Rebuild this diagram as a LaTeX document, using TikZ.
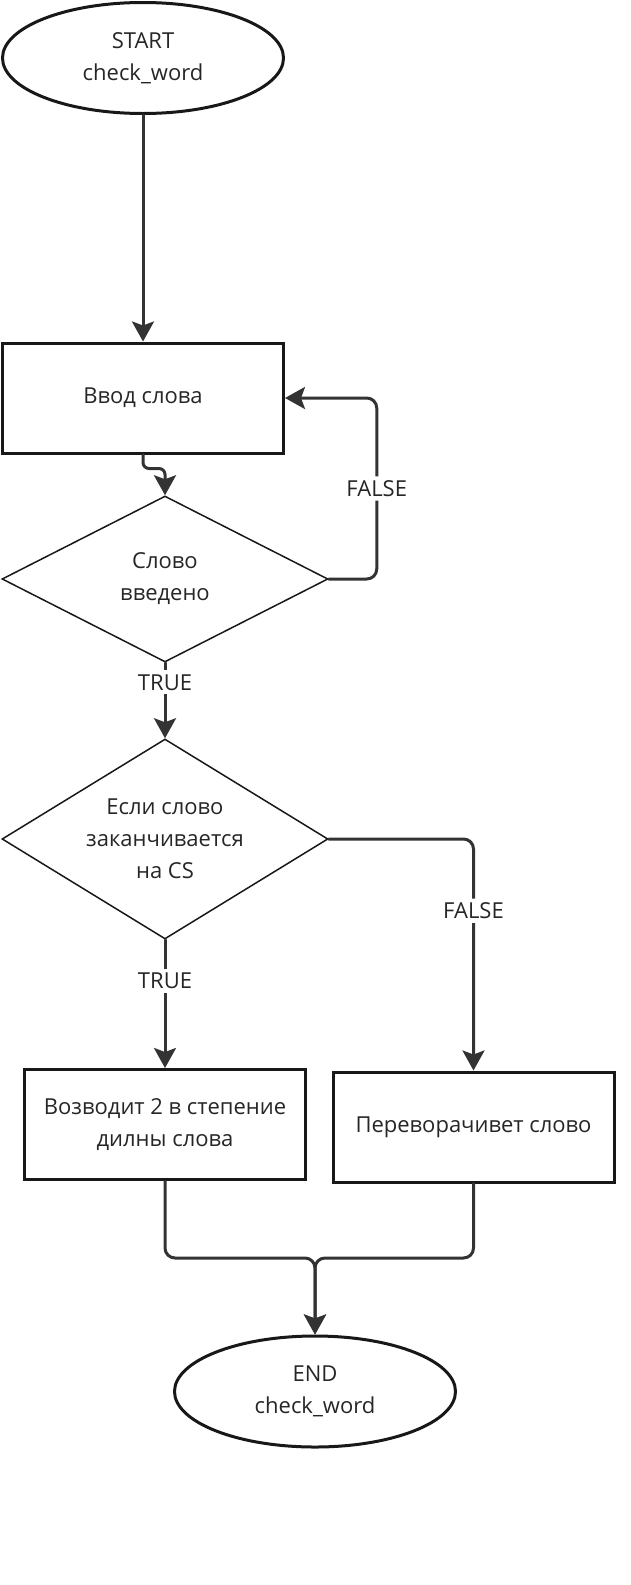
\documentclass[tikz,border=0pt]{standalone}
\usepackage{fontspec}
\setmainfont{Open Sans}
\usetikzlibrary{arrows.meta,positioning,shapes.geometric,calc}
\definecolor{flowline}{RGB}{51,51,51}
\definecolor{flowedge}{RGB}{24,24,24}
\definecolor{flowtext}{RGB}{38,38,38}
\begin{document}
\begin{tikzpicture}[x=1pt,y=-1pt,line cap=round,
 every node/.style={font=\fontsize{22}{32}\selectfont,text=flowtext},
 term/.style={ellipse,draw=flowedge,line width=3pt,minimum width=281,minimum height=111,inner sep=0pt,align=center},
 proc/.style={rectangle,draw=flowedge,line width=3pt,minimum width=281,minimum height=110,inner sep=0pt,align=center},
 cond/.style={diamond,draw=flowedge,line width=1.5pt,inner sep=0pt,align=center},
 conn/.style={draw=flowline,line width=3pt,-{Stealth[length=20pt,width=22pt,inset=4pt]}},
 lbl/.style={fill=white,inner sep=4pt}]
\useasboundingbox (0,0) rectangle (630,1585);
\node[term] (start) at (143,58) {START\\check\_word};
\node[proc] (in) at (143,398) {Ввод слова};
\node[cond,aspect=1.96,minimum width=326,minimum height=166] (c1) at (165,579) {Слово\\введено};
\node[cond,aspect=1.63,minimum width=326,minimum height=200] (c2) at (165,839) {Если слово\\заканчивается\\на CS};
\node[proc] (pow) at (165,1124.5) {Возводит 2 в степение\\дилны слова};
\node[proc] (rev) at (473.5,1127) {Переворачивет слово};
\node[term] (end) at (315,1391.5) {END\\check\_word};
\coordinate (mrg) at (315,1258);
\draw[conn] (start) -- (in);
\draw[conn,rounded corners=6] (in.south) -- ++(0,14) -| (c1.north);
\draw[conn,rounded corners=10] (c1.east) -- ++(48,0) |- node[lbl,pos=.25] {FALSE} (in.east);
\draw[conn] (c1.south) -- node[lbl,pos=.26] {TRUE} (c2.north);
\draw[conn] (c2.south) -- node[lbl,pos=.32] {TRUE} (pow.north);
\draw[conn,rounded corners=10] (c2.east) -| node[lbl,pos=.655] {FALSE} (rev.north);
\draw[conn,rounded corners=10] (pow.south) |- (mrg) -- (end.north);
\draw[conn,rounded corners=10] (rev.south) |- (mrg) -- (end.north);
\end{tikzpicture}
\end{document}
